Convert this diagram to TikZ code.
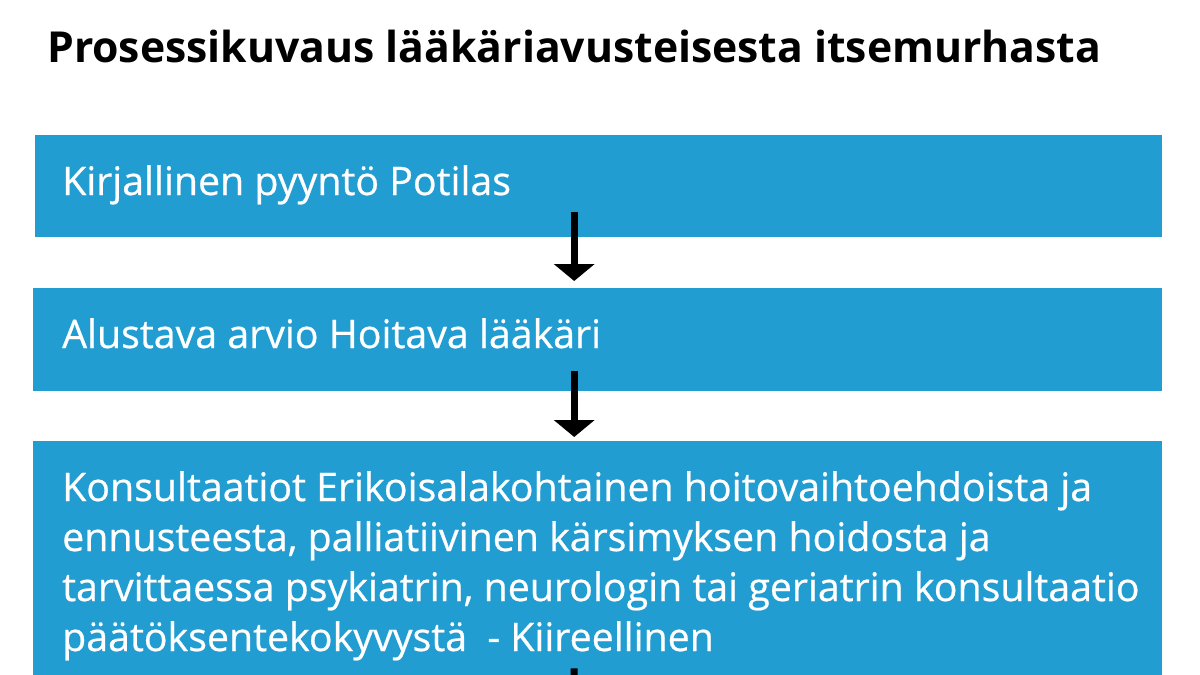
\documentclass[tikz,border=0pt]{standalone}
\usepackage{fontspec}
\setmainfont{Open Sans}
\newfontfamily\boxfont[FakeBold=0.6]{Open Sans}
\usetikzlibrary{arrows.meta}
\definecolor{boxblue}{RGB}{34,157,210}
\begin{document}
\begin{tikzpicture}[x=1pt,y=-1pt,
  box/.style={fill=boxblue, draw=none, inner sep=0pt, anchor=north west},
  lbl/.style={anchor=base west, text=white, inner sep=0pt, font=\boxfont\fontsize{39.3}{50}\selectfont},
  flow/.style={line width=7pt, -{Triangle[width=40pt,length=17pt]}}]
\useasboundingbox (0,0) rectangle (1200,675);
\clip (0,0) rectangle (1200,675);
\fill[white] (0,0) rectangle (1200,675);
\node[anchor=base west, inner sep=0pt, font=\fontsize{42.7}{50}\selectfont\bfseries] (title) at (47,62) {Prosessikuvaus lääkäriavusteisesta itsemurhasta};
\node[box, minimum width=1127pt, minimum height=102pt] (b1) at (35,135) {};
\node[box, minimum width=1129pt, minimum height=103pt] (b2) at (33,288) {};
\node[box, minimum width=1129pt, minimum height=280pt] (b3) at (33,441) {};
\node[lbl] (t1) at (62,195) {Kirjallinen pyyntö Potilas};
\node[lbl] (t2) at (62,348) {Alustava arvio Hoitava lääkäri};
\node[lbl, align=left] (t3) at (62,651) {Konsultaatiot Erikoisalakohtainen hoitovaihtoehdoista ja\\ennusteesta, palliatiivinen kärsimyksen hoidosta ja\\tarvittaessa psykiatrin, neurologin tai geriatrin konsultaatio\\päätöksentekokyvystä\ \ - Kiireellinen};
\coordinate (below) at (574,760);
\draw[flow] ([xshift=-24.5pt,yshift=25pt]b1.south) -- ([xshift=-23.5pt,yshift=7pt]b2.north);
\draw[flow] ([xshift=-23.5pt,yshift=20pt]b2.south) -- ([xshift=-23.5pt,yshift=4pt]b3.north);
\draw[flow] ([xshift=-23.5pt,yshift=53pt]b3.south) -- (below);
\end{tikzpicture}
\end{document}
